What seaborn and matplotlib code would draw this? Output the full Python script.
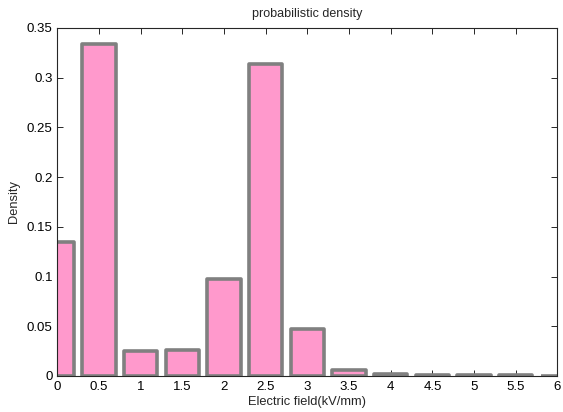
import matplotlib
matplotlib.use("Agg")
import matplotlib.pyplot as plt
import seaborn as sns
import pandas as pd

# Histogram bin centres (kV/mm) and their density
field = [0.0, 0.5, 1.0, 1.5, 2.0, 2.5, 3.0, 3.5, 4.0, 4.5, 5.0, 5.5, 6.0]
density = [0.135, 0.334, 0.025, 0.026, 0.098, 0.314, 0.047, 0.006,
           0.002, 0.001, 0.0006, 0.0005, 0.0004]

x_ticks = [0, 0.5, 1, 1.5, 2, 2.5, 3, 3.5, 4, 4.5, 5, 5.5, 6]
x_tick_labels = ["0", "0.5", "1", "1.5", "2", "2.5", "3", "3.5", "4", "4.5", "5", "5.5", "6"]
y_ticks = [0, 0.05, 0.1, 0.15, 0.2, 0.25, 0.3, 0.35]
y_tick_labels = ["0", "0.05", "0.1", "0.15", "0.2", "0.25", "0.3", "0.35"]

sns.set_theme(style="white")
plt.rcParams["font.family"] = ["Liberation Sans", "DejaVu Sans"]
plt.rcParams["axes.edgecolor"] = "#262626"
plt.rcParams["axes.linewidth"] = 0.8

df = pd.DataFrame({"field": field, "density": density})

fig = plt.figure(figsize=(5.63, 4.12), dpi=100)
ax = fig.add_axes([0.1021, 0.0874, 0.888, 0.845])

sns.barplot(data=df, x="field", y="density", native_scale=True, width=0.8,
            color="#FF99CC", saturation=1, edgecolor="#808080", linewidth=2.6,
            ax=ax, zorder=2)
for patch in ax.patches:
    patch.set_joinstyle("round")

ax.set_xlim(0, 6)
ax.set_ylim(0, 0.35)
ax.set_xticks(x_ticks)
ax.set_xticklabels(x_tick_labels)
ax.set_yticks(y_ticks)
ax.set_yticklabels(y_tick_labels)

ax.tick_params(axis="both", which="major", direction="in", length=4, width=0.7,
               color="#262626", labelsize=9.5, labelcolor="black",
               top=True, right=True, bottom=True, left=True, pad=3.5)
for side in ["top", "right", "bottom", "left"]:
    ax.spines[side].set_visible(True)
    ax.spines[side].set_zorder(3)

ax.set_title("probabilistic density", fontsize=9, pad=8)
ax.set_xlabel("Electric field(kV/mm)", fontsize=9.3, labelpad=2)
ax.set_ylabel("Density", fontsize=9.3, labelpad=5)

fig.savefig("out.png", dpi=100)
